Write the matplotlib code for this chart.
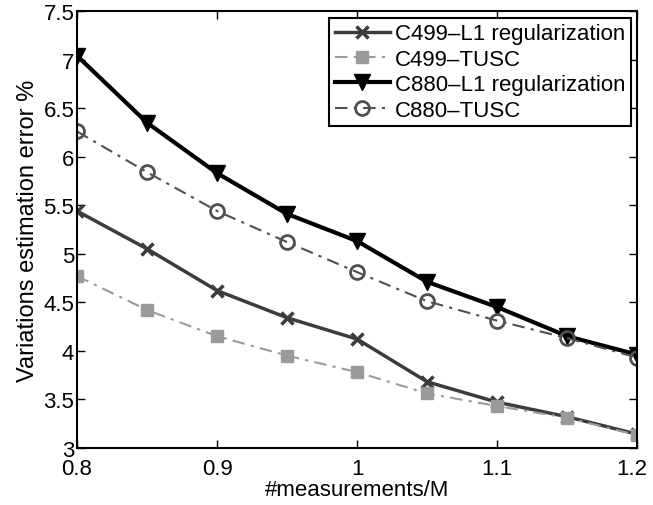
import numpy as np
import matplotlib
matplotlib.use("Agg")
import matplotlib.pyplot as plt
import matplotlib.transforms as mtransforms

plt.rcParams['font.family'] = ['Liberation Sans', 'DejaVu Sans']

# data
ratio = [0.8, 0.85, 0.9, 0.95, 1.0, 1.05, 1.1, 1.15, 1.2]
c499_l1 = [5.44, 5.05, 4.62, 4.34, 4.12, 3.68, 3.47, 3.32, 3.14]
c499_tusc = [4.77, 4.42, 4.15, 3.95, 3.78, 3.56, 3.43, 3.31, 3.13]
c880_l1 = [7.04, 6.35, 5.83, 5.41, 5.13, 4.71, 4.45, 4.15, 3.96]
c880_tusc = [6.26, 5.84, 5.44, 5.12, 4.81, 4.51, 4.31, 4.13, 3.93]
labels = ['C499\u2013L1 regularization', 'C499\u2013TUSC',
          'C880\u2013L1 regularization', 'C880\u2013TUSC']

fig = plt.figure(figsize=(6.53, 5.06), dpi=100)
ax = fig.add_axes([0.118, 0.113, 0.858, 0.863])

ax.plot(ratio, c499_l1, '-x', color='#3c3c3c', lw=2.5, ms=8, mew=2.5,
        label=labels[0])
ax.plot(ratio, c499_tusc, '-.s', color='#9a9a9a', lw=1.5, ms=8,
        dashes=(6, 3, 1.5, 3), label=labels[1])
ax.plot(ratio, c880_l1, '-v', color='black', lw=3, ms=11,
        label=labels[2])
ax.plot(ratio, c880_tusc, '-.o', color='#505050', lw=1.5, ms=10, mew=2,
        mfc='none', dashes=(6, 3, 1.5, 3), label=labels[3])

ax.set_xlim(0.8, 1.2)
ax.set_ylim(3, 7.5)
ax.set_xticks([0.8, 0.9, 1.0, 1.1, 1.2])
ax.set_xticklabels(['0.8', '0.9', '1', '1.1', '1.2'])
ax.set_yticks(np.arange(3, 7.51, 0.5))
ax.set_yticklabels(['3', '3.5', '4', '4.5', '5', '5.5', '6', '6.5', '7', '7.5'])
ax.tick_params(direction='in', top=True, right=True, labelsize=16,
               length=6, width=1, pad=2)
ax.tick_params(axis='x', pad=7)
for s in ax.spines.values():
    s.set_linewidth(1.5)

# last x label sits a little left so it stays inside the figure
last = ax.get_xticklabels()[-1]
last.set_transform(last.get_transform() +
                   mtransforms.ScaledTranslation(-6 / 100, 0, fig.dpi_scale_trans))

ax.set_xlabel('#measurements/M', fontsize=16, labelpad=0)
ax.set_ylabel('Variations estimation error %', fontsize=17, labelpad=3)

leg = ax.legend(loc='upper right', fontsize=16, fancybox=False,
                framealpha=1, edgecolor='black', borderaxespad=0.3,
                handlelength=2.5, borderpad=0.25, labelspacing=0.2,
                handletextpad=0.2)
leg.get_frame().set_linewidth(1.5)

fig.savefig('out.png', dpi=100)
